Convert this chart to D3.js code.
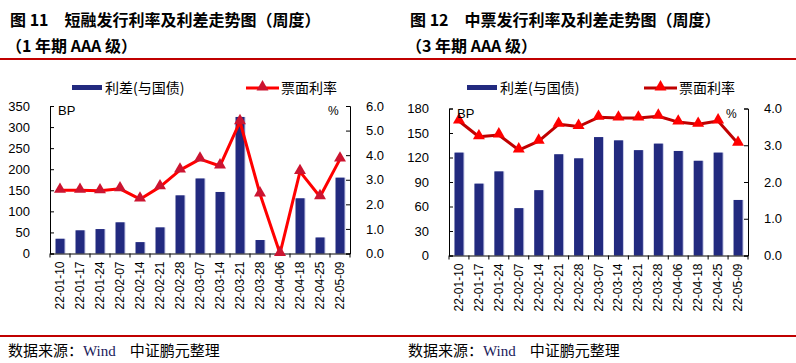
<!DOCTYPE html>
<html><head><meta charset="utf-8">
<script src="https://cdn.jsdelivr.net/npm/d3@7"></script>
<style>
body{margin:0;background:#fff;}
svg{display:block;}
</style></head>
<body>
<svg id="c" width="796" height="363"></svg>
<script>
const categories = ["22-01-10","22-01-17","22-01-24","22-02-07","22-02-14","22-02-21","22-02-28","22-03-07","22-03-14","22-03-21","22-03-28","22-04-06","22-04-18","22-04-25","22-05-09"];
// Figure 11: short-term financing bills (1Y AAA)
const spread11 = [35,55,58,74,27,62,138,178,146,324,32,0,131,38,180];
const rate11 = [2.57,2.57,2.55,2.63,2.21,2.71,3.39,3.84,3.56,5.36,2.42,0.0,3.33,2.31,3.84];
const leftTicks11 = [0,50,100,150,200,250,300,350];
const rightTicks11 = [0,1,2,3,4,5,6];
// Figure 12: medium-term notes (3Y AAA)
const spread12 = [126,88,103,58,80,124,119,145,141,129,137,128,116,126,68];
const rate12 = [3.66,3.23,3.28,2.87,3.11,3.57,3.51,3.76,3.74,3.74,3.79,3.63,3.57,3.66,3.05];
const leftTicks12 = [0,30,60,90,120,150,180];
const rightTicks12 = [0,1,2,3,4];
const seriesNames = ["利差(与国债)","票面利率"];

const svg = d3.select("#c");
const NAVY = "#222a7f";
const CJK = "'Noto Sans CJK SC','Noto Sans',sans-serif";
const TICKF = "'Liberation Sans','DejaVu Sans',sans-serif";

// separators
svg.append("rect").attr("x",0).attr("y",58).attr("width",796).attr("height",2).attr("fill","#c00000");
svg.append("rect").attr("x",0).attr("y",335).attr("width",796).attr("height",2).attr("fill","#c00000");

function panel(o){
  const g = svg.append("g");
  // titles
  g.append("text").attr("x",o.ox+10).attr("y",26).attr("font-family",CJK).attr("font-weight","700")
    .attr("font-size",16).attr("fill","#000").text(o.title1);
  g.append("text").attr("x",o.ox+6).attr("y",52).attr("font-family",CJK).attr("font-weight","700")
    .attr("font-size",16).attr("fill","#000").text(o.title2);
  // source
  const src = g.append("text").attr("x",o.ox+8).attr("y",356).attr("font-size",15).attr("font-family",CJK).attr("fill","#000");
  src.append("tspan").text("数据来源：");
  src.append("tspan").attr("font-family","'Liberation Serif',serif").attr("fill","#1a1a5a").text("Wind");
  src.append("tspan").attr("dx",14).text("中证鹏元整理");

  const x = d3.scaleBand().domain(categories).range([o.x0,o.x1]).paddingInner(0).paddingOuter(0);
  const yL = d3.scaleLinear().domain([0,d3.max(o.lt)]).range([o.y0,o.y1]);
  const yR = d3.scaleLinear().domain([0,d3.max(o.rt)]).range([o.y0,o.y1]);

  // bars with light edge
  const bw = 9;
  g.selectAll(".sh").data(o.spread).join("rect")
    .attr("x",(d,i)=>x(categories[i])+x.bandwidth()/2-bw/2+1).attr("width",bw)
    .attr("y",d=>yL(d)).attr("height",d=>d>0?o.y0-yL(d):0).attr("fill","#c4c7e6");
  g.selectAll(".bar").data(o.spread).join("rect")
    .attr("x",(d,i)=>x(categories[i])+x.bandwidth()/2-bw/2).attr("width",bw)
    .attr("y",d=>yL(d)).attr("height",d=>d>0?o.y0-yL(d):0).attr("fill",NAVY);

  // axes
  const axL = d3.axisLeft(yL).tickValues(o.lt).tickSize(-4).tickPadding(20).tickFormat(d3.format("d"));
  const gl = g.append("g").attr("transform",`translate(${o.x0},0)`).call(axL);
  const axR = d3.axisRight(yR).tickValues(o.rt).tickSize(-4).tickPadding(16).tickFormat(d3.format(".1f"));
  const gr = g.append("g").attr("transform",`translate(${o.x1},0)`).call(axR);
  [gl,gr].forEach(a=>{
    a.select(".domain").attr("stroke","#000");
    a.selectAll(".tick line").attr("stroke","#000");
    a.selectAll("text").attr("font-family",TICKF).attr("font-size",13).attr("fill","#000");
  });
  // x axis
  g.append("line").attr("x1",o.x0).attr("x2",o.x1).attr("y1",o.y0+0.5).attr("y2",o.y0+0.5).attr("stroke","#000");
  g.selectAll(".xt").data(d3.range(categories.length+1)).join("line")
    .attr("x1",i=>o.x0+i*x.bandwidth()).attr("x2",i=>o.x0+i*x.bandwidth())
    .attr("y1",o.y0).attr("y2",o.y0+4).attr("stroke","#000");
  g.selectAll(".xl").data(categories).join("text")
    .attr("transform",d=>`translate(${x(d)+x.bandwidth()/2+4},${o.y0+8}) rotate(-90)`)
    .attr("text-anchor","end").attr("font-family",TICKF).attr("font-size",12).attr("fill","#000").text(d=>d);

  // line
  const line = d3.line().x((d,i)=>x(categories[i])+x.bandwidth()/2).y(d=>yR(d));
  g.append("path").datum(o.rate).attr("d",line).attr("fill","none").attr("stroke",o.lineColor).attr("stroke-width",3).attr("stroke-linejoin","round");
  const tri = d3.symbol().type(d3.symbolTriangle).size(62);
  g.selectAll(".mk").data(o.rate).join("path")
    .attr("d",tri).attr("transform",(d,i)=>`translate(${x(categories[i])+x.bandwidth()/2},${yR(d)-1})`)
    .attr("fill",o.markColor);

  // unit labels
  g.append("text").attr("x",o.x0+8).attr("y",o.y1+9).attr("font-family",TICKF).attr("font-size",13).text("BP");
  g.append("text").attr("x",o.x1-22).attr("y",o.y1+9).attr("font-family",TICKF).attr("font-size",12).text("%");

  // legend
  g.append("rect").attr("x",o.lg1).attr("y",o.ly-3).attr("width",30).attr("height",5).attr("fill",NAVY);
  g.append("text").attr("x",o.lg1+33).attr("y",o.ly+5).attr("font-family",CJK).attr("font-size",14).text(seriesNames[0]);
  g.append("line").attr("x1",o.lg2).attr("x2",o.lg2+33).attr("y1",o.ly).attr("y2",o.ly).attr("stroke",o.lineColor).attr("stroke-width",3);
  g.append("path").attr("d",tri).attr("transform",`translate(${o.lg2+16.5},${o.ly-1})`).attr("fill",o.markColor);
  g.append("text").attr("x",o.lg2+35).attr("y",o.ly+5).attr("font-family",CJK).attr("font-size",14).text(seriesNames[1]);
}

panel({ox:0,title1:"图 11　短融发行利率及利差走势图（周度）",title2:"（1 年期 AAA 级）",
  x0:50,x1:350,y0:253.5,y1:106,spread:spread11,rate:rate11,lt:leftTicks11,rt:rightTicks11,
  lineColor:"#ff0000",markColor:"#cc1430",lg1:72,lg2:246,ly:88});
panel({ox:400,title1:"图 12　中票发行利率及利差走势图（周度）",title2:"（3 年期 AAA 级）",
  x0:449,x1:748,y0:255.5,y1:108.5,spread:spread12,rate:rate12,lt:leftTicks12,rt:rightTicks12,
  lineColor:"#c00000",markColor:"#ff0000",lg1:467,lg2:644,ly:88});
</script>
</body></html>
